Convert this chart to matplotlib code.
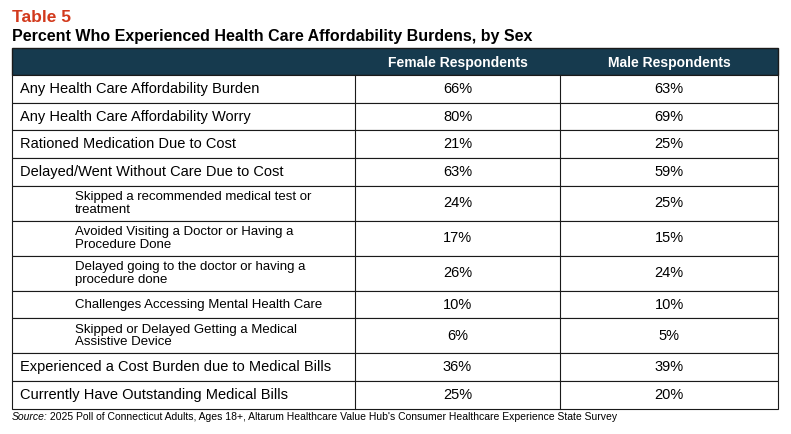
import matplotlib.pyplot as plt
from matplotlib.patches import Rectangle

plt.rcParams['font.family'] = ['Liberation Sans', 'DejaVu Sans']

title = 'Table 5'
subtitle = 'Percent Who Experienced Health Care Affordability Burdens, by Sex'
columns = ['Female Respondents', 'Male Respondents']
rows = [
    'Any Health Care Affordability Burden',
    'Any Health Care Affordability Worry',
    'Rationed Medication Due to Cost',
    'Delayed/Went Without Care Due to Cost',
    'Skipped a recommended medical test or\ntreatment',
    'Avoided Visiting a Doctor or Having a\nProcedure Done',
    'Delayed going to the doctor or having a\nprocedure done',
    'Challenges Accessing Mental Health Care',
    'Skipped or Delayed Getting a Medical\nAssistive Device',
    'Experienced a Cost Burden due to Medical Bills',
    'Currently Have Outstanding Medical Bills',
]
indented = [False, False, False, False, True, True, True, True, True, False, False]
female = [66, 80, 21, 63, 24, 17, 26, 10, 6, 36, 25]
male = [63, 69, 25, 59, 25, 15, 24, 10, 5, 39, 20]
source = "2025 Poll of Connecticut Adults, Ages 18+, Altarum Healthcare Value Hub's Consumer Healthcare Experience State Survey"

W, H = 791, 434
fig = plt.figure(figsize=(W / 100, H / 100), dpi=100)
ax = fig.add_axes([0, 0, 1, 1])
ax.set_xlim(0, W)
ax.set_ylim(H, 0)
ax.axis('off')

navy = '#163a4e'
line = '#1a1a1a'
x0, x1, x2, x3 = 12, 355, 560, 778

ax.text(12, 17, title, color='#d2391c', fontsize=12.5, fontweight='bold', va='center')
ax.text(12, 37, subtitle, color='black', fontsize=11.5, fontweight='bold', va='center')

# header
top, head_h = 48, 27
ax.add_patch(Rectangle((x0, top), x3 - x0, head_h, facecolor=navy, edgecolor=line, lw=1))
for c, (a, b) in zip(columns, [(x1, x2), (x2, x3)]):
    ax.text((a + b) / 2, top + head_h / 2 + 1, c, color='white', fontsize=10,
            fontweight='bold', ha='center', va='center')

y = top + head_h
for label, ind, f, m in zip(rows, indented, female, male):
    h = 35 if '\n' in label else 27.7
    ax.add_patch(Rectangle((x0, y), x3 - x0, h, facecolor='white', edgecolor=line, lw=0.8))
    for xv in (x1, x2):
        ax.plot([xv, xv], [y, y + h], color=line, lw=0.8)
    cy = y + h / 2
    if ind:
        ax.text(75, cy, label, fontsize=9.5, va='center', linespacing=1.05)
    else:
        ax.text(20, cy, label, fontsize=10.5, va='center')
    ax.text((x1 + x2) / 2, cy, f'{f}%', fontsize=10.5, ha='center', va='center')
    ax.text((x2 + x3) / 2, cy, f'{m}%', fontsize=10.5, ha='center', va='center')
    y += h

ax.text(12, y + 8, 'Source:', fontsize=7.5, style='italic', va='center')
ax.text(47, y + 8, ' ' + source, fontsize=7.5, va='center')

fig.savefig('out.png', dpi=100)
